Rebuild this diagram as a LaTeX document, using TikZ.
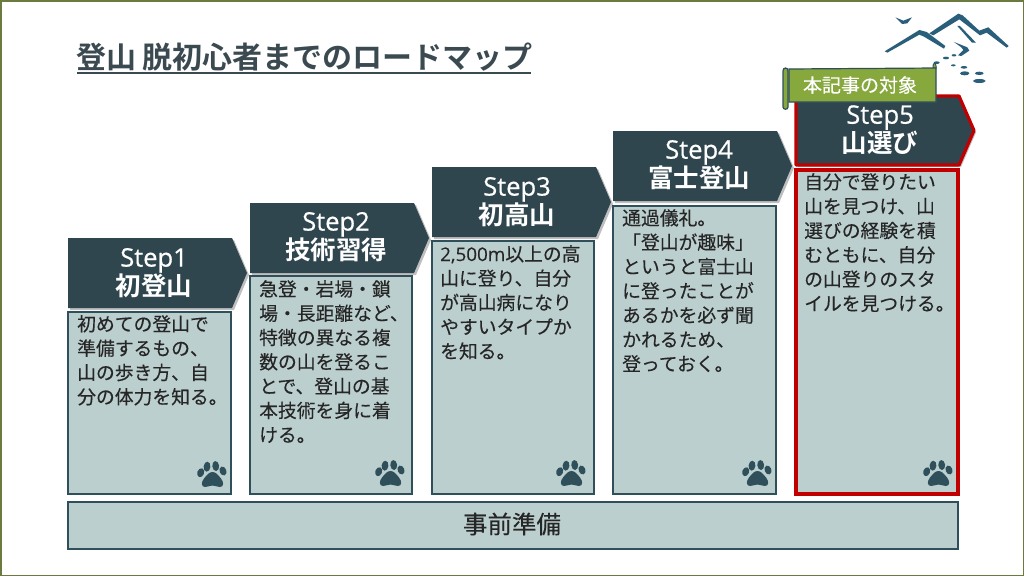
\documentclass[tikz,border=0pt]{standalone}
\usepackage{fontspec}
\setmainfont[FakeBold=0.25]{Noto Sans CJK JP}
\newfontfamily\latinf[FakeBold=0.25]{Open Sans}
\newfontfamily\headf{Noto Sans CJK JP Bold}
\newfontfamily\headlat[FakeBold=0.6]{Open Sans}
\usetikzlibrary{calc}
\definecolor{navy}{HTML}{30464F}
\definecolor{pale}{HTML}{BCCFCF}
\definecolor{boxline}{HTML}{2F4F5B}
\definecolor{bad}{HTML}{C00000}
\definecolor{olive}{HTML}{6B7B3F}
\definecolor{leaf}{HTML}{86A83C}
\definecolor{logo}{HTML}{2A5F7C}
\definecolor{titlec}{HTML}{3A4A50}
\tikzset{
  bodytext/.style={anchor=north west,align=left,text=black!85,inner sep=0pt,font=\fontsize{18.8}{24.3}\selectfont},
  steptext/.style={align=center,text=white,inner sep=0pt,font=\fontsize{25.5}{29}\selectfont},
  stepshape/.style={fill=navy},
  cardshape/.style={fill=pale,draw=boxline,line width=1.2pt},
  logofill/.style={fill=logo,draw=none},
  pawfill/.style={fill=boxline,draw=none}
}
\newcommand{\arrowshape}[5][]{% x0 y0 x1 y1
  \fill[black,opacity=.25] (#2+2,#3+2) -- (#4-15+2,#3+2) -- (#4+2,{(#3+#5)/2+2}) -- (#4-15+2,#5+2) -- (#2+2,#5+2) -- cycle;
  \path[stepshape,#1] (#2,#3) -- (#4-15,#3) -- (#4,{(#3+#5)/2}) -- (#4-15,#5) -- (#2,#5) -- cycle;}
\newcommand{\paw}[2]{%
  \begin{scope}[shift={(#1,#2)}]
   \fill[pawfill] (-7,13) .. controls (-11,13) and (-11,8) .. (-8,4.5) .. controls (-5,1) and (-3,-2) .. (0.5,-2) .. controls (4,-2) and (6,1) .. (9,4.5) .. controls (12,8) and (12,13) .. (8,13) .. controls (5,13) and (3,11.5) .. (0.5,11.5) .. controls (-2,11.5) and (-4,13) .. (-7,13) -- cycle;
   \fill[pawfill,rotate around={-20:(-11.3,-1.3)}] (-11.3,-1.3) ellipse (3.4 and 4.6);
   \fill[pawfill,rotate around={-6:(-5,-7.3)}] (-5,-7.3) ellipse (3.4 and 5);
   \fill[pawfill,rotate around={6:(3.7,-8)}] (3.7,-8) ellipse (3.4 and 5);
   \fill[pawfill,rotate around={20:(11,-3)}] (11,-3) ellipse (3.4 and 4.6);
  \end{scope}}
\begin{document}
\begin{tikzpicture}[x=1pt,y=-1pt]
\useasboundingbox (0,0) rectangle (1024,576);
\fill[white] (0,0) rectangle (1024,576);
\draw[olive,line width=1.5pt] (0.75,0.75) rectangle (1023.25,575.25);

% title
\node[anchor=west,inner sep=0pt,text=titlec,font=\headf\fontsize{30}{34}\selectfont] (title) at (76,57) {登山 脱初心者までのロードマップ};
\draw[titlec,line width=1.8pt] (77,73) -- (531,73);

% logo
\begin{scope}[shift={(770,0)},x=0.3333pt,y=-0.3333pt]
 \fill[logofill] (344,154) -- (448,90) -- (470,96) -- (526,138) -- (522,146) -- (462,110) -- (448,104) -- (352,158) -- cycle;
 \fill[logofill] (478,100) -- (565,41) -- (578,46) -- (628,92) -- (655,82) -- (716,138) -- (710,143) -- (650,98) -- (630,106) -- (568,58) -- (490,106) -- cycle;
 \fill[logofill] (562,78) -- (570,78) -- (618,128) -- (606,128) -- cycle;
 \fill[logofill] (552,126) -- (592,142) -- (598,152) -- (574,168) -- (564,166) -- (580,150) -- (574,142) -- cycle;
 \fill[logofill] (376,52) -- (400,62) -- (426,52) -- (412,70) -- (396,72) -- cycle;
 \fill[logofill] (500,188) ellipse (9 and 4);
 \fill[logofill] (528,174) ellipse (9 and 4);
 \fill[logofill] (552,166) ellipse (7 and 3.5);
 \fill[logofill] (550,196) ellipse (7 and 3);
 \fill[logofill] (582,202) ellipse (10 and 4);
 \fill[logofill] (584,220) ellipse (14 and 6);
 \fill[logofill] (628,220) ellipse (13 and 5);
 \fill[logofill] (628,243) ellipse (19 and 6);
\end{scope}

% step arrows
\arrowshape{68}{238}{247}{308}
\arrowshape{250}{203}{429}{273}
\arrowshape{432}{167}{611}{237}
\arrowshape{613}{131}{792}{201}
\arrowshape[draw=bad,line width=3.2pt,line join=round]{796}{96}{974}{165}

\node[steptext] (s1) at (154,273) {{\headlat Step1}\\{\headf 初登山}};
\node[steptext] (s2) at (336,237) {{\headlat Step2}\\{\headf 技術習得}};
\node[steptext] (s3) at (517,202) {{\headlat Step3}\\{\headf 初高山}};
\node[steptext] (s4) at (699,165) {{\headlat Step4}\\{\headf 富士登山}};
\node[steptext] (s5) at (880,130) {{\headlat Step5}\\{\headf 山選び}};

% cards
\path[cardshape] (68,312) rectangle (231,494);
\path[cardshape] (250,276) rectangle (412,494);
\path[cardshape] (432,241) rectangle (594,494);
\path[cardshape] (613,206) rectangle (776,494);
\path[cardshape,draw=bad,line width=3.2pt] (796,170) rectangle (958,494);

\node[bodytext] (c1) at (77,315) {初めての登山で\\準備するもの、\\山の歩き方、自\\分の体力を知る。};
\node[bodytext] (c2) at (259,280) {急登・岩場・鎖\\場・長距離など、\\特徴の異なる複\\数の山を登るこ\\とで、登山の基\\本技術を身に着\\ける。};
\node[bodytext] (c3) at (440,245) {{\latinf 2,500m}以上の高\\山に登り、自分\\が高山病になり\\やすいタイプか\\を知る。};
\node[bodytext] (c4) at (622,209) {通過儀礼。\\「登山が趣味」\\というと富士山\\に登ったことが\\あるかを必ず聞\\かれるため、\\登っておく。};
\node[bodytext] (c5) at (804,173) {自分で登りたい\\山を見つけ、山\\選びの経験を積\\むともに、自分\\の山登りのスタ\\イルを見つける。};

\paw{212}{474}
\paw{390}{473}
\paw{571}{473}
\paw{757}{473}
\paw{938}{473}

% base bar
\path[cardshape] (68,502) rectangle (958,549);
\node[inner sep=0pt,text=black!85,font=\fontsize{24.5}{28}\selectfont] (base) at (512,524) {事前準備};

% scroll banner
\draw[boxline,fill=leaf,line width=1pt] (933,66) .. controls (933,63) and (936,62) .. (936,66) -- (936,68) -- (933,68) -- cycle;
\draw[boxline,fill=leaf,line width=1.2pt] (789,69) -- (936,68) -- (936,102) -- (789,102) -- cycle;
\draw[boxline,fill=leaf,line width=1.2pt] (783,71) .. controls (783,67) and (788,67) .. (788,71) -- (788,107) .. controls (788,110) and (783,110) .. (783,107) -- cycle;
\node[inner sep=0pt,text=white,font=\fontsize{19}{22}\selectfont] (tag) at (860,85) {本記事の対象};
\end{tikzpicture}
\end{document}
